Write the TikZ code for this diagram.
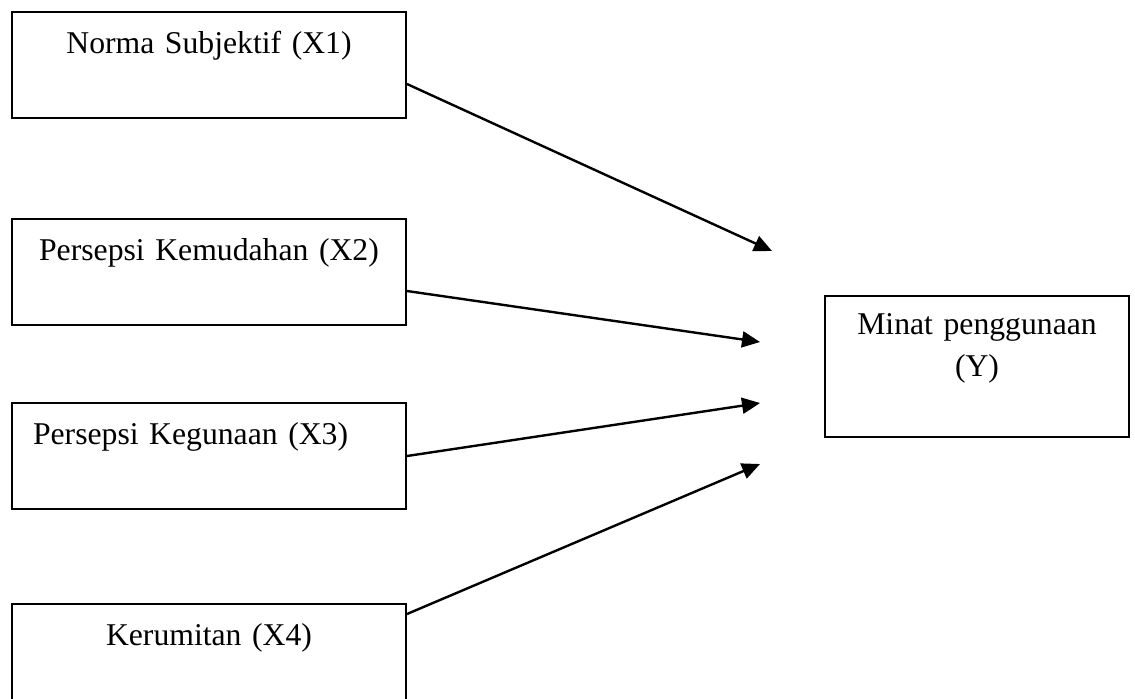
\documentclass[tikz,border=0pt]{standalone}
\usepackage{fontspec}
\setmainfont{Liberation Serif}
\usepackage{tikz}
\usetikzlibrary{arrows.meta}
\tikzset{varbox/.style={draw,line width=1pt,anchor=north west,inner xsep=10.5pt,inner ysep=0pt,text width=176pt,align=center,text height=20.5pt,text depth=32.5pt}}
\tikzset{link/.style={->,line width=1.2pt}}

\begin{document}
\begin{tikzpicture}[x=0.5pt,y=-0.5pt,>={Triangle[length=9pt,width=8pt]},line join=miter,font=\fontsize{15.85}{21}\selectfont]
\useasboundingbox (0,0) rectangle (1135,698);
\clip (0,0) rectangle (1135,698);
% --- independent variables (X4 runs off the page)
\node[varbox] (x1) at (11,11) {Norma Subjektif (X1)};
\node[varbox] (x2) at (11,218) {Persepsi Kemudahan (X2)};
\node[varbox,align=left] (x3) at (11,402) {Persepsi Kegunaan (X3)};
\node[varbox] (x4) at (11,603) {Kerumitan (X4)};
% --- dependent variable
\node[varbox,text width=142pt,inner xsep=5pt,text height=19pt,text depth=51.5pt] (y) at (824,295) {Minat penggunaan\\(Y)};
% --- arrows stop short of the Y box
\coordinate (t1) at (772,251);
\coordinate (t2) at (760,342);
\coordinate (t3) at (760,403);
\coordinate (t4) at (760,464);
\draw[link] ([yshift=-9.5pt]x1.east) -- (t1);
\draw[link] ([yshift=-9.5pt]x2.east) -- (t2);
\draw[link] (x3.east) -- (t3);
\draw[link] ([yshift=21.5pt]x4.east) -- (t4);
\end{tikzpicture}
\end{document}
